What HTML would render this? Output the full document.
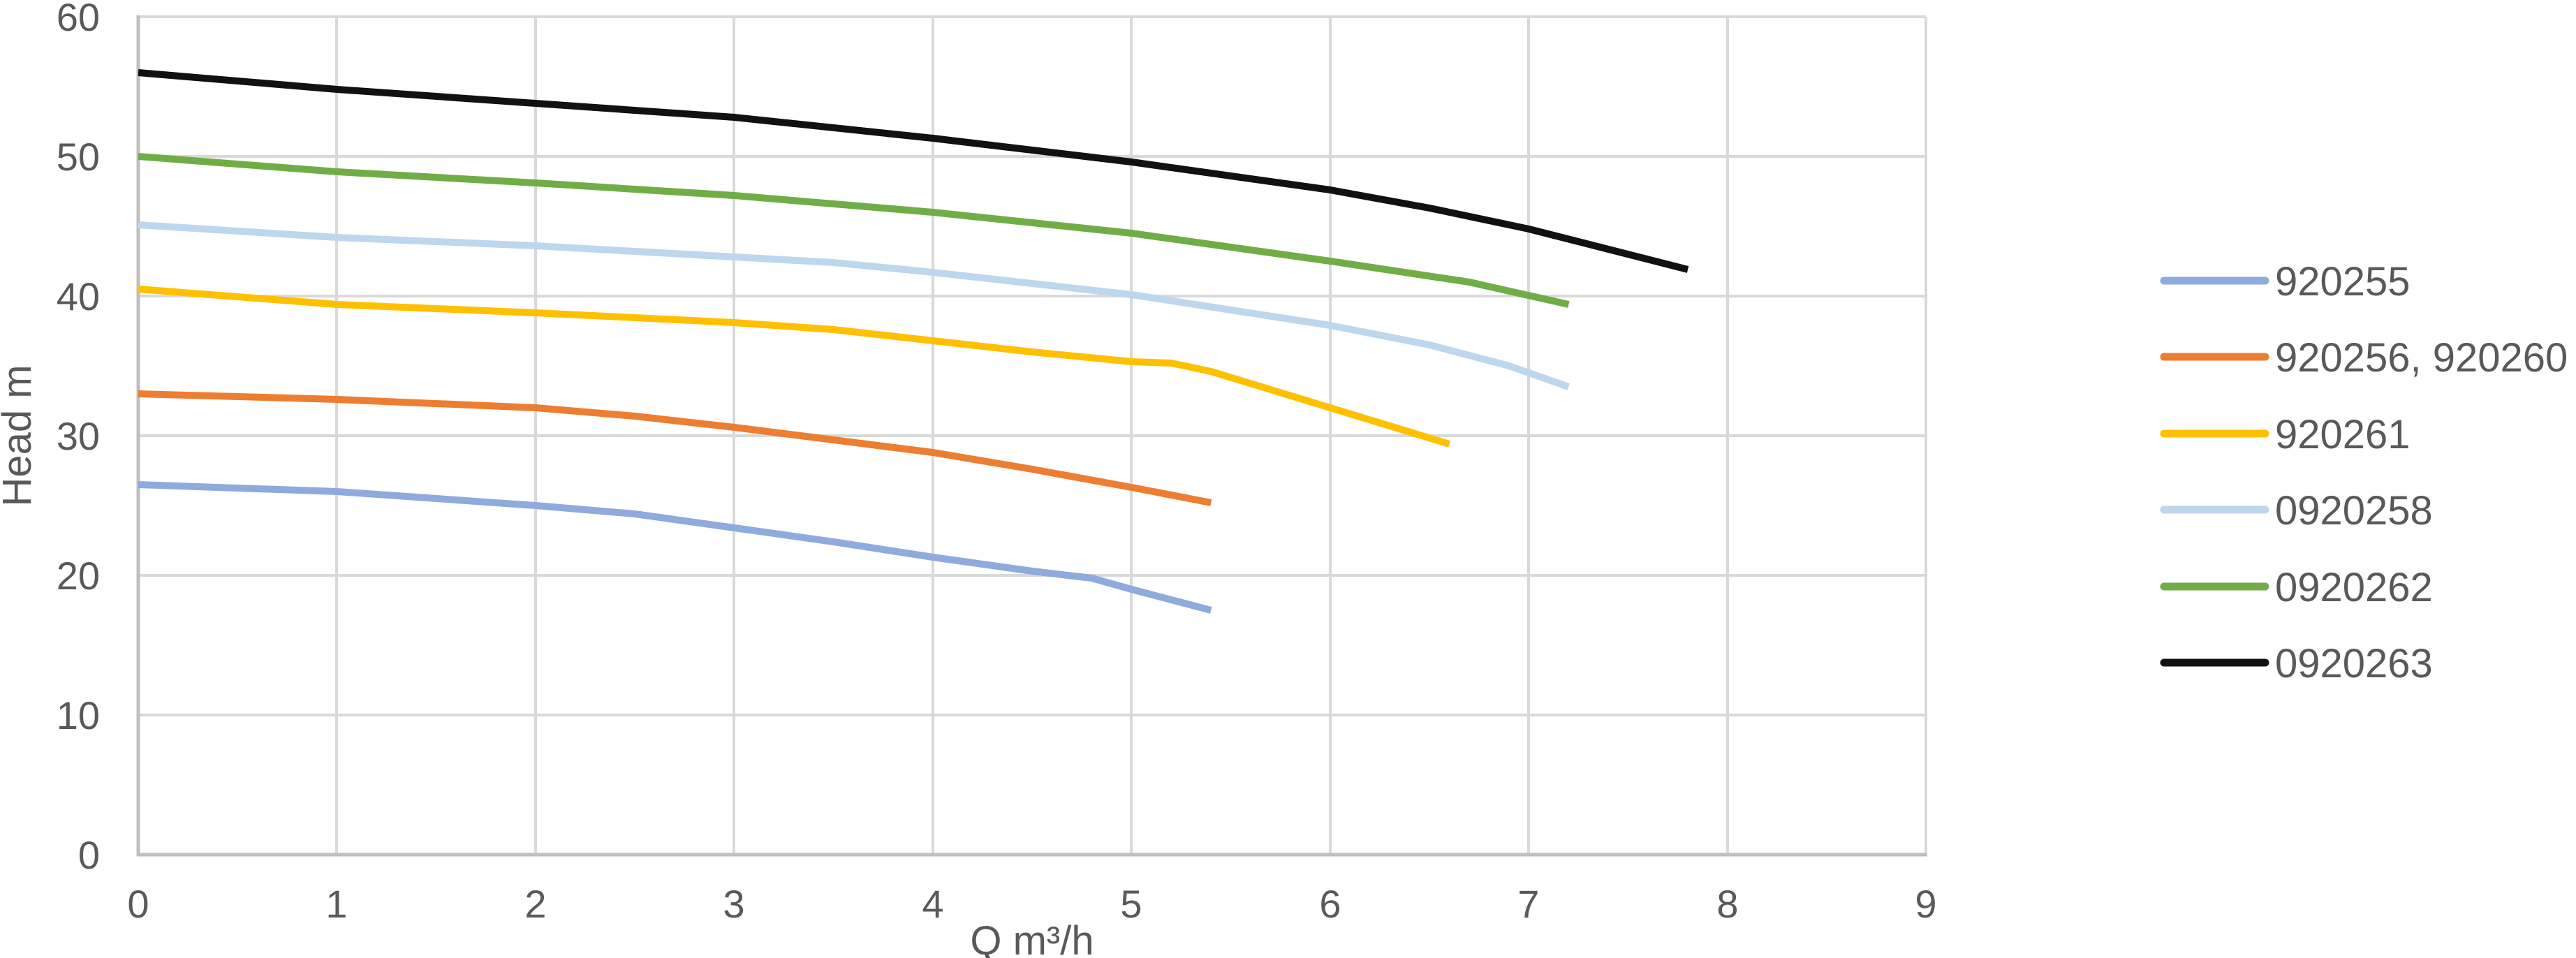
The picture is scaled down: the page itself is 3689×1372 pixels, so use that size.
<!DOCTYPE html>
<html><head><meta charset="utf-8"><style>
html,body{margin:0;padding:0;background:#fff;}
svg{display:block;}
text{font-family:"Liberation Sans",Arial,sans-serif;fill:#595959;}
</style></head><body>
<svg width="3689" height="1372" viewBox="0 0 3689 1372" xmlns="http://www.w3.org/2000/svg">
<rect width="3689" height="1372" fill="#fff"/>
<g stroke="#d9d9d9" stroke-width="4">
<line x1="482" y1="24" x2="482" y2="1224"/>
<line x1="767" y1="24" x2="767" y2="1224"/>
<line x1="1051" y1="24" x2="1051" y2="1224"/>
<line x1="1336" y1="24" x2="1336" y2="1224"/>
<line x1="1620" y1="24" x2="1620" y2="1224"/>
<line x1="1905" y1="24" x2="1905" y2="1224"/>
<line x1="2189" y1="24" x2="2189" y2="1224"/>
<line x1="2474" y1="24" x2="2474" y2="1224"/>
<line x1="2758" y1="24" x2="2758" y2="1224"/>
<line x1="198" y1="24" x2="2758" y2="24"/>
<line x1="198" y1="224" x2="2758" y2="224"/>
<line x1="198" y1="424" x2="2758" y2="424"/>
<line x1="198" y1="624" x2="2758" y2="624"/>
<line x1="198" y1="824" x2="2758" y2="824"/>
<line x1="198" y1="1024" x2="2758" y2="1024"/>
</g>
<g stroke="#bfbfbf" stroke-width="5">
<line x1="198" y1="22" x2="198" y2="1226"/>
<line x1="196" y1="1224" x2="2760" y2="1224"/>
</g>
<g font-size="56" text-anchor="end">
<text x="143" y="44">60</text>
<text x="143" y="244">50</text>
<text x="143" y="444">40</text>
<text x="143" y="644">30</text>
<text x="143" y="844">20</text>
<text x="143" y="1044">10</text>
<text x="143" y="1244">0</text>
</g>
<g font-size="56" text-anchor="middle">
<text x="198" y="1314">0</text>
<text x="482" y="1314">1</text>
<text x="767" y="1314">2</text>
<text x="1051" y="1314">3</text>
<text x="1336" y="1314">4</text>
<text x="1620" y="1314">5</text>
<text x="1905" y="1314">6</text>
<text x="2189" y="1314">7</text>
<text x="2474" y="1314">8</text>
<text x="2758" y="1314">9</text>
<text x="1478" y="1367" font-size="58">Q m³/h</text>
<text transform="translate(44,624) rotate(-90)" font-size="58">Head m</text>
</g>
<g transform="translate(198,1224) scale(284.5,-20)" fill="none" stroke-width="10" stroke-linejoin="round">
<polyline vector-effect="non-scaling-stroke" stroke="#8faadc" points="0,26.5 1,26 2,25 2.5,24.4 3,23.4 3.5,22.4 4,21.3 4.5,20.3 4.8,19.8 5,19 5.4,17.5"/>
<polyline vector-effect="non-scaling-stroke" stroke="#ed7d31" points="0,33 1,32.6 2,32 2.5,31.4 3,30.6 3.5,29.7 4,28.8 4.5,27.6 5,26.3 5.4,25.2"/>
<polyline vector-effect="non-scaling-stroke" stroke="#ffc000" points="0,40.5 1,39.4 2,38.8 3,38.1 3.5,37.6 4,36.8 4.5,36 5,35.3 5.2,35.2 5.4,34.6 6,32 6.6,29.4"/>
<polyline vector-effect="non-scaling-stroke" stroke="#bdd7ee" points="0,45.1 1,44.2 2,43.6 3,42.8 3.5,42.4 4,41.7 5,40.1 5.5,39 6,37.9 6.5,36.5 6.9,35 7.2,33.5"/>
<polyline vector-effect="non-scaling-stroke" stroke="#70ad47" points="0,50 1,48.9 2,48.1 3,47.2 4,46 5,44.5 6,42.5 6.7,41 7.2,39.4"/>
<polyline vector-effect="non-scaling-stroke" stroke="#111" points="0,56 1,54.8 2,53.8 3,52.8 4,51.3 5,49.6 6,47.6 6.5,46.3 7,44.8 7.8,41.9"/>
</g>
<g stroke-width="11" stroke-linecap="round">
<line x1="3099" y1="402" x2="3244" y2="402" stroke="#8faadc"/>
<line x1="3099" y1="511" x2="3244" y2="511" stroke="#ed7d31"/>
<line x1="3099" y1="621" x2="3244" y2="621" stroke="#ffc000"/>
<line x1="3099" y1="730" x2="3244" y2="730" stroke="#bdd7ee"/>
<line x1="3099" y1="840" x2="3244" y2="840" stroke="#70ad47"/>
<line x1="3099" y1="949" x2="3244" y2="949" stroke="#111"/>
</g>
<g font-size="58">
<text x="3258" y="423">920255</text>
<text x="3258" y="532">920256, 920260</text>
<text x="3258" y="642">920261</text>
<text x="3258" y="751">0920258</text>
<text x="3258" y="861">0920262</text>
<text x="3258" y="970">0920263</text>
</g>
</svg>
</body></html>
